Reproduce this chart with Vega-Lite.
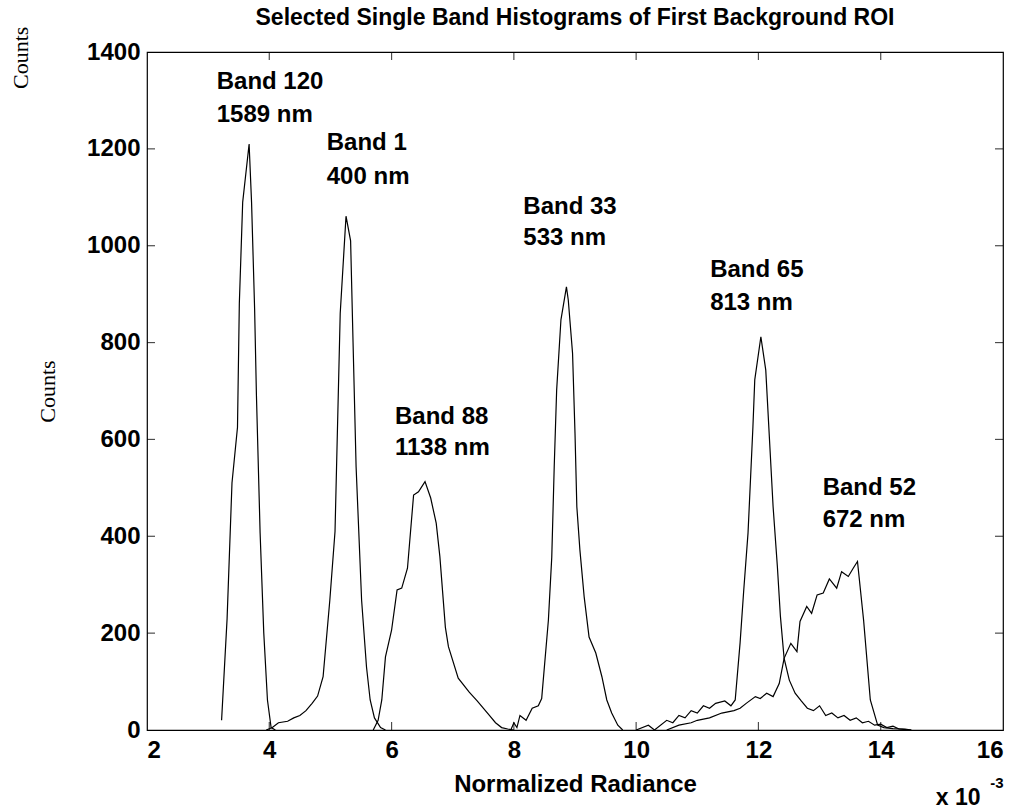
{
  "$schema": "https://vega.github.io/schema/vega-lite/v6.json",
  "width": 856,
  "height": 678,
  "autosize": "none",
  "padding": {"left": 147, "top": 52, "right": 20, "bottom": 82},
  "background": "white",
  "config": {
    "view": {"stroke": "black", "strokeWidth": 1.2},
    "font": "Liberation Sans",
    "axis": {"grid": false, "domain": false, "ticks": false, "labelColor": "black", "titleColor": "black"}
  },
  "title": {"text": "Selected Single Band Histograms of First Background ROI", "fontSize": 23, "fontWeight": "bold", "font": "Liberation Sans", "color": "black", "offset": -3},
  "datasets": {
    "hist": [
      {"band": "120", "x": 3.22, "y": 20}, {"band": "120", "x": 3.31, "y": 230}, {"band": "120", "x": 3.39, "y": 510}, {"band": "120", "x": 3.48, "y": 625}, {"band": "120", "x": 3.51, "y": 880}, {"band": "120", "x": 3.565, "y": 1090}, {"band": "120", "x": 3.67, "y": 1210}, {"band": "120", "x": 3.71, "y": 1090}, {"band": "120", "x": 3.76, "y": 870}, {"band": "120", "x": 3.79, "y": 690}, {"band": "120", "x": 3.85, "y": 407}, {"band": "120", "x": 3.91, "y": 200}, {"band": "120", "x": 3.97, "y": 62}, {"band": "120", "x": 4.03, "y": 5}, {"band": "120", "x": 4.1, "y": 0},
      {"band": "1", "x": 3.95, "y": 0}, {"band": "1", "x": 4.05, "y": 5}, {"band": "1", "x": 4.15, "y": 15}, {"band": "1", "x": 4.3, "y": 18}, {"band": "1", "x": 4.4, "y": 25}, {"band": "1", "x": 4.5, "y": 30}, {"band": "1", "x": 4.6, "y": 40}, {"band": "1", "x": 4.7, "y": 55}, {"band": "1", "x": 4.79, "y": 70}, {"band": "1", "x": 4.88, "y": 110}, {"band": "1", "x": 4.99, "y": 268}, {"band": "1", "x": 5.075, "y": 410}, {"band": "1", "x": 5.16, "y": 860}, {"band": "1", "x": 5.255, "y": 1061}, {"band": "1", "x": 5.33, "y": 1010}, {"band": "1", "x": 5.37, "y": 800}, {"band": "1", "x": 5.42, "y": 543}, {"band": "1", "x": 5.51, "y": 268}, {"band": "1", "x": 5.59, "y": 130}, {"band": "1", "x": 5.65, "y": 62}, {"band": "1", "x": 5.72, "y": 25}, {"band": "1", "x": 5.82, "y": 5}, {"band": "1", "x": 5.9, "y": 0},
      {"band": "88", "x": 5.7, "y": 0}, {"band": "88", "x": 5.78, "y": 20}, {"band": "88", "x": 5.84, "y": 62}, {"band": "88", "x": 5.9, "y": 151}, {"band": "88", "x": 6.0, "y": 206}, {"band": "88", "x": 6.09, "y": 289}, {"band": "88", "x": 6.166, "y": 293}, {"band": "88", "x": 6.26, "y": 334}, {"band": "88", "x": 6.36, "y": 485}, {"band": "88", "x": 6.44, "y": 492}, {"band": "88", "x": 6.547, "y": 513}, {"band": "88", "x": 6.64, "y": 479}, {"band": "88", "x": 6.73, "y": 427}, {"band": "88", "x": 6.79, "y": 358}, {"band": "88", "x": 6.88, "y": 212}, {"band": "88", "x": 6.93, "y": 172}, {"band": "88", "x": 7.09, "y": 107}, {"band": "88", "x": 7.27, "y": 78}, {"band": "88", "x": 7.4, "y": 60}, {"band": "88", "x": 7.5, "y": 45}, {"band": "88", "x": 7.6, "y": 30}, {"band": "88", "x": 7.7, "y": 15}, {"band": "88", "x": 7.8, "y": 5}, {"band": "88", "x": 7.9, "y": 2}, {"band": "88", "x": 8.0, "y": 0},
      {"band": "33", "x": 7.95, "y": 0}, {"band": "33", "x": 8.0, "y": 15}, {"band": "33", "x": 8.05, "y": 5}, {"band": "33", "x": 8.1, "y": 30}, {"band": "33", "x": 8.2, "y": 20}, {"band": "33", "x": 8.3, "y": 45}, {"band": "33", "x": 8.4, "y": 50}, {"band": "33", "x": 8.455, "y": 65}, {"band": "33", "x": 8.565, "y": 227}, {"band": "33", "x": 8.62, "y": 357}, {"band": "33", "x": 8.66, "y": 543}, {"band": "33", "x": 8.7, "y": 702}, {"band": "33", "x": 8.77, "y": 847}, {"band": "33", "x": 8.86, "y": 915}, {"band": "33", "x": 8.89, "y": 888}, {"band": "33", "x": 8.96, "y": 778}, {"band": "33", "x": 9.0, "y": 613}, {"band": "33", "x": 9.03, "y": 461}, {"band": "33", "x": 9.08, "y": 372}, {"band": "33", "x": 9.15, "y": 275}, {"band": "33", "x": 9.23, "y": 192}, {"band": "33", "x": 9.34, "y": 159}, {"band": "33", "x": 9.44, "y": 110}, {"band": "33", "x": 9.52, "y": 62}, {"band": "33", "x": 9.6, "y": 35}, {"band": "33", "x": 9.7, "y": 10}, {"band": "33", "x": 9.78, "y": 0},
      {"band": "65", "x": 10.0, "y": 0}, {"band": "65", "x": 10.2, "y": 10}, {"band": "65", "x": 10.3, "y": 0}, {"band": "65", "x": 10.5, "y": 20}, {"band": "65", "x": 10.6, "y": 15}, {"band": "65", "x": 10.7, "y": 30}, {"band": "65", "x": 10.8, "y": 25}, {"band": "65", "x": 10.9, "y": 40}, {"band": "65", "x": 11.0, "y": 35}, {"band": "65", "x": 11.1, "y": 50}, {"band": "65", "x": 11.2, "y": 45}, {"band": "65", "x": 11.3, "y": 55}, {"band": "65", "x": 11.45, "y": 60}, {"band": "65", "x": 11.55, "y": 50}, {"band": "65", "x": 11.62, "y": 62}, {"band": "65", "x": 11.7, "y": 180}, {"band": "65", "x": 11.76, "y": 289}, {"band": "65", "x": 11.83, "y": 407}, {"band": "65", "x": 11.91, "y": 626}, {"band": "65", "x": 11.94, "y": 723}, {"band": "65", "x": 12.04, "y": 812}, {"band": "65", "x": 12.12, "y": 743}, {"band": "65", "x": 12.19, "y": 578}, {"band": "65", "x": 12.24, "y": 461}, {"band": "65", "x": 12.31, "y": 337}, {"band": "65", "x": 12.36, "y": 234}, {"band": "65", "x": 12.42, "y": 148}, {"band": "65", "x": 12.505, "y": 103}, {"band": "65", "x": 12.6, "y": 76}, {"band": "65", "x": 12.7, "y": 60}, {"band": "65", "x": 12.8, "y": 45}, {"band": "65", "x": 12.9, "y": 40}, {"band": "65", "x": 13.0, "y": 50}, {"band": "65", "x": 13.1, "y": 30}, {"band": "65", "x": 13.2, "y": 35}, {"band": "65", "x": 13.3, "y": 25}, {"band": "65", "x": 13.4, "y": 30}, {"band": "65", "x": 13.5, "y": 20}, {"band": "65", "x": 13.6, "y": 25}, {"band": "65", "x": 13.7, "y": 15}, {"band": "65", "x": 13.8, "y": 18}, {"band": "65", "x": 13.9, "y": 10}, {"band": "65", "x": 14.0, "y": 12}, {"band": "65", "x": 14.1, "y": 5}, {"band": "65", "x": 14.2, "y": 8}, {"band": "65", "x": 14.3, "y": 2}, {"band": "65", "x": 14.5, "y": 0},
      {"band": "52", "x": 10.5, "y": 0}, {"band": "52", "x": 10.7, "y": 10}, {"band": "52", "x": 10.9, "y": 15}, {"band": "52", "x": 11.0, "y": 20}, {"band": "52", "x": 11.2, "y": 25}, {"band": "52", "x": 11.4, "y": 35}, {"band": "52", "x": 11.6, "y": 40}, {"band": "52", "x": 11.7, "y": 45}, {"band": "52", "x": 11.8, "y": 55}, {"band": "52", "x": 11.95, "y": 69}, {"band": "52", "x": 12.03, "y": 65}, {"band": "52", "x": 12.135, "y": 76}, {"band": "52", "x": 12.24, "y": 69}, {"band": "52", "x": 12.34, "y": 96}, {"band": "52", "x": 12.42, "y": 148}, {"band": "52", "x": 12.53, "y": 179}, {"band": "52", "x": 12.63, "y": 162}, {"band": "52", "x": 12.68, "y": 224}, {"band": "52", "x": 12.79, "y": 255}, {"band": "52", "x": 12.87, "y": 241}, {"band": "52", "x": 12.96, "y": 279}, {"band": "52", "x": 13.06, "y": 283}, {"band": "52", "x": 13.16, "y": 312}, {"band": "52", "x": 13.28, "y": 293}, {"band": "52", "x": 13.36, "y": 327}, {"band": "52", "x": 13.47, "y": 317}, {"band": "52", "x": 13.55, "y": 334}, {"band": "52", "x": 13.62, "y": 348}, {"band": "52", "x": 13.72, "y": 227}, {"band": "52", "x": 13.83, "y": 62}, {"band": "52", "x": 13.95, "y": 10}, {"band": "52", "x": 14.05, "y": 5}, {"band": "52", "x": 14.2, "y": 3}, {"band": "52", "x": 14.4, "y": 2}, {"band": "52", "x": 14.5, "y": 0}
    ],
    "labels": [
      {"x": 3.14, "y": 1338, "text": "Band 120"}, {"x": 3.14, "y": 1270, "text": "1589 nm"},
      {"x": 4.94, "y": 1212, "text": "Band 1"}, {"x": 4.94, "y": 1142, "text": "400 nm"},
      {"x": 8.155, "y": 1080, "text": "Band 33"}, {"x": 8.155, "y": 1016, "text": "533 nm"},
      {"x": 11.21, "y": 950, "text": "Band 65"}, {"x": 11.21, "y": 882, "text": "813 nm"},
      {"x": 6.056, "y": 646, "text": "Band 88"}, {"x": 6.056, "y": 582, "text": "1138 nm"},
      {"x": 13.05, "y": 500, "text": "Band 52"}, {"x": 13.05, "y": 434, "text": "672 nm"}
    ],
    "xticks": [{"v": 4}, {"v": 6}, {"v": 8}, {"v": 10}, {"v": 12}, {"v": 14}],
    "yticks": [{"v": 200}, {"v": 400}, {"v": 600}, {"v": 800}, {"v": 1000}, {"v": 1200}],
    "extra": [{"x": -0.06, "y": 1388, "text": "Counts"}],
    "exponent": [{"x": 14.9, "y": -140, "text": "x 10"}],
    "exponentSup": [{"x": 15.79, "y": -109, "text": "-3"}]
  },
  "layer": [
    {
      "data": {"name": "hist"},
      "mark": {"type": "line", "color": "black", "strokeWidth": 1.2, "clip": true},
      "encoding": {
        "x": {"field": "x", "type": "quantitative", "scale": {"domain": [2, 16], "nice": false, "zero": false},
          "axis": {"values": [2, 4, 6, 8, 10, 12, 14, 16], "format": "d", "labelFontSize": 24, "labelFontWeight": "bold", "labelPadding": 8, "title": "Normalized Radiance", "titleFontSize": 24, "titleFontWeight": "bold", "titlePadding": 10}},
        "y": {"field": "y", "type": "quantitative", "scale": {"domain": [0, 1400], "nice": false},
          "axis": {"values": [0, 200, 400, 600, 800, 1000, 1200, 1400], "format": "d", "labelFontSize": 24, "labelFontWeight": "bold", "labelPadding": 7, "title": "Counts", "titleFont": "Liberation Serif", "titleFontSize": 22, "titleFontWeight": "normal", "titlePadding": 27}},
        "detail": {"field": "band", "type": "nominal"}
      }
    },
    {
      "data": {"name": "xticks"},
      "mark": {"type": "tick", "orient": "vertical", "color": "black", "size": 16, "thickness": 1.2, "clip": true},
      "encoding": {"x": {"field": "v", "type": "quantitative"}, "y": {"datum": 0}}
    },
    {
      "data": {"name": "xticks"},
      "mark": {"type": "tick", "orient": "vertical", "color": "black", "size": 16, "thickness": 1.2, "clip": true},
      "encoding": {"x": {"field": "v", "type": "quantitative"}, "y": {"datum": 1400}}
    },
    {
      "data": {"name": "yticks"},
      "mark": {"type": "tick", "orient": "horizontal", "color": "black", "size": 16, "thickness": 1.2, "clip": true},
      "encoding": {"y": {"field": "v", "type": "quantitative"}, "x": {"datum": 2}}
    },
    {
      "data": {"name": "yticks"},
      "mark": {"type": "tick", "orient": "horizontal", "color": "black", "size": 16, "thickness": 1.2, "clip": true},
      "encoding": {"y": {"field": "v", "type": "quantitative"}, "x": {"datum": 16}}
    },
    {
      "data": {"name": "labels"},
      "mark": {"type": "text", "align": "left", "baseline": "middle", "fontSize": 24, "fontWeight": "bold", "color": "black"},
      "encoding": {"x": {"field": "x", "type": "quantitative"}, "y": {"field": "y", "type": "quantitative"}, "text": {"field": "text"}}
    },
    {
      "data": {"name": "extra"},
      "mark": {"type": "text", "align": "center", "baseline": "middle", "angle": 270, "font": "Liberation Serif", "fontSize": 22, "color": "black", "clip": false},
      "encoding": {"x": {"field": "x", "type": "quantitative"}, "y": {"field": "y", "type": "quantitative"}, "text": {"field": "text"}}
    },
    {
      "data": {"name": "exponent"},
      "mark": {"type": "text", "align": "left", "baseline": "middle", "fontSize": 23, "fontWeight": "bold", "color": "black", "clip": false},
      "encoding": {"x": {"field": "x", "type": "quantitative"}, "y": {"field": "y", "type": "quantitative"}, "text": {"field": "text"}}
    },
    {
      "data": {"name": "exponentSup"},
      "mark": {"type": "text", "align": "left", "baseline": "middle", "fontSize": 15, "fontWeight": "bold", "color": "black", "clip": false},
      "encoding": {"x": {"field": "x", "type": "quantitative"}, "y": {"field": "y", "type": "quantitative"}, "text": {"field": "text"}}
    }
  ]
}
